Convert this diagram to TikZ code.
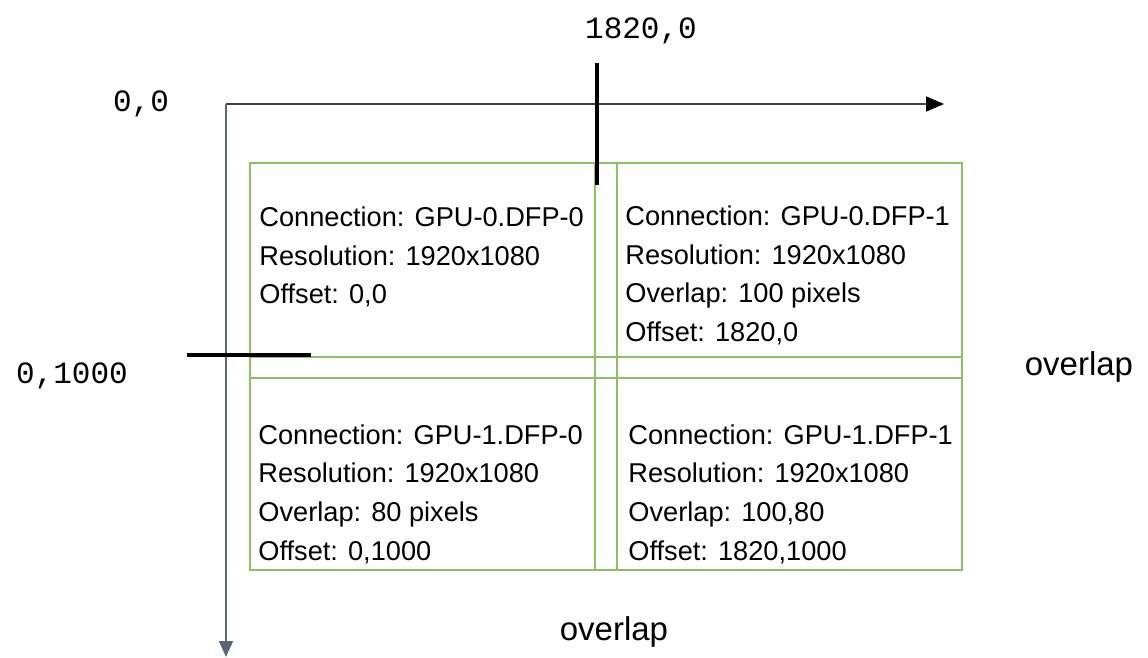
\documentclass[tikz,border=0pt]{standalone}
\usepackage{fontspec}
\setmainfont{Liberation Sans}
\newfontfamily\labelmono{Liberation Mono}
\usetikzlibrary{arrows.meta}
\definecolor{screengreen}{HTML}{8CC063}
\definecolor{axisslate}{HTML}{5B6779}
\tikzset{
  screen/.style={draw=screengreen, line width=1.2pt},
  info/.style={anchor=west, align=left, inner sep=0pt,
    font=\fontsize{13.6}{19.3}\selectfont},
  coord/.style={font=\labelmono\fontsize{15.5}{17}\selectfont},
  marker/.style={line width=2pt, black},
  note/.style={font=\fontsize{16.5}{18}\selectfont},
}
\begin{document}
\begin{tikzpicture}[x=0.5pt,y=-0.5pt]
  \useasboundingbox (0,0) rectangle (1148,658);
  % axes
  \coordinate (origin) at (226,104);
  \coordinate (xend) at (944,104);
  \coordinate (yend) at (226,657);
  \draw[line width=0.9pt, black!75, -{Triangle[length=9pt,width=7.5pt,fill=black,color=black]}] (origin) -- (xend);
  \draw[line width=0.9pt, axisslate, -{Triangle[length=8pt,width=7pt]}] (origin) -- (yend);
  \node[coord] (zero) at (141,104) {0,0};
  % screens
  \draw[screen] (250,163) rectangle (617,378);
  \draw[screen] (595,163) rectangle (962,378);
  \draw[screen] (250,357) rectangle (617,570);
  \draw[screen] (595,357) rectangle (962,570);
  % offset markers
  \coordinate (vtop) at (597,63);
  \coordinate (vbot) at (597,185);
  \draw[marker] (vtop) -- (vbot);
  \node[coord] (xoff) at (641,31) {1820,0};
  \coordinate (hleft) at (187,355);
  \coordinate (hright) at (311,355);
  \draw[marker] (hleft) -- (hright);
  \node[coord] (yoff) at (72,376) {0,1000};
  % screen texts
  \node[info] (dfpa) at (259,257) {Connection: GPU-0.DFP-0\\Resolution: 1920x1080\\Offset: 0,0};
  \node[info] (dfpb) at (625,275.5) {Connection: GPU-0.DFP-1\\Resolution: 1920x1080\\Overlap: 100 pixels\\Offset: 1820,0};
  \node[info] (dfpc) at (258,494) {Connection: GPU-1.DFP-0\\Resolution: 1920x1080\\Overlap: 80 pixels\\Offset: 0,1000};
  \node[info] (dfpd) at (628,494) {Connection: GPU-1.DFP-1\\Resolution: 1920x1080\\Overlap: 100,80\\Offset: 1820,1000};
  % overlap notes
  \node[note] (ovright) at (1079,367) {overlap};
  \node[note] (ovbottom) at (614,632) {overlap};
\end{tikzpicture}
\end{document}
